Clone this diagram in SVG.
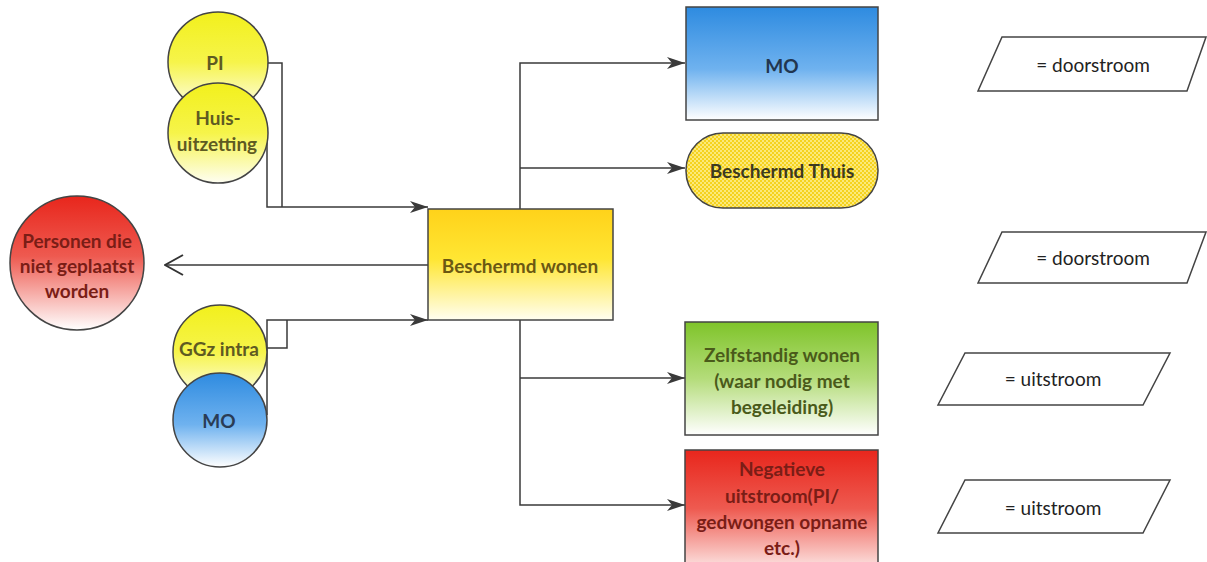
<svg xmlns="http://www.w3.org/2000/svg" width="1207" height="562" viewBox="0 0 1207 562">
<defs>
<linearGradient id="gY" x1="0" y1="0" x2="0" y2="1"><stop offset="0" stop-color="#ffd21a"/><stop offset="0.45" stop-color="#ffe633"/><stop offset="1" stop-color="#fffef0"/></linearGradient>
<linearGradient id="gYc" x1="0" y1="0" x2="0" y2="1"><stop offset="0" stop-color="#f2f01c"/><stop offset="0.5" stop-color="#f6f44a"/><stop offset="1" stop-color="#fefef2"/></linearGradient>
<linearGradient id="gB" x1="0" y1="0" x2="0" y2="1"><stop offset="0" stop-color="#2e8be0"/><stop offset="0.55" stop-color="#6fb2ef"/><stop offset="1" stop-color="#ffffff"/></linearGradient>
<linearGradient id="gG" x1="0" y1="0" x2="0" y2="1"><stop offset="0" stop-color="#7fc42a"/><stop offset="0.5" stop-color="#b4dc7a"/><stop offset="1" stop-color="#ffffff"/></linearGradient>
<linearGradient id="gR" x1="0" y1="0" x2="0" y2="1"><stop offset="0" stop-color="#e8261c"/><stop offset="0.45" stop-color="#ee5a50"/><stop offset="1" stop-color="#ffffff"/></linearGradient>
<pattern id="hatch" width="4" height="4" patternUnits="userSpaceOnUse"><rect width="4" height="4" fill="#fbe97a"/><rect width="2" height="2" fill="#f5d21e"/><rect x="2" y="2" width="2" height="2" fill="#f5d21e"/></pattern>
<marker id="ah" markerWidth="18" markerHeight="12" refX="18" refY="6" orient="auto" markerUnits="userSpaceOnUse"><path d="M0,0 L18,6 L0,12 L5,6 Z" fill="#3a3a3a"/></marker>
<marker id="oh" markerWidth="20" markerHeight="22" refX="19" refY="11" orient="auto" markerUnits="userSpaceOnUse"><path d="M1,1 L19,11 L1,21" fill="none" stroke="#333" stroke-width="2"/></marker>
</defs>
<style>
.s{stroke:#444;stroke-width:1.5}
.c{fill:none;stroke:#3a3a3a;stroke-width:1.5}
text{font-family:Lato,"Open Sans","Liberation Sans",sans-serif;text-anchor:middle;dominant-baseline:central}
.t{font-size:19px;font-weight:bold}
.p{font-size:19px;fill:#222}
</style>
<g id="connectors">
<polyline class="c" points="267,63 282,63 282,207"/>
<polyline class="c" points="267,140 267,207 428,207" marker-end="url(#ah)"/>
<polyline class="c" points="267,348 287,348 287,320"/>
<polyline class="c" points="267,415 267,320 428,320" marker-end="url(#ah)"/>
<line class="c" x1="428" y1="265" x2="165" y2="265" marker-end="url(#oh)"/>
<polyline class="c" points="520,209 520,63 685,63" marker-end="url(#ah)"/>
<polyline class="c" points="520,168 685,168" marker-end="url(#ah)"/>
<polyline class="c" points="520,320 520,505 685,505" marker-end="url(#ah)"/>
<polyline class="c" points="520,378 685,378" marker-end="url(#ah)"/>
</g>
<g id="pi"><circle class="s" cx="218" cy="62" r="50" fill="url(#gYc)"/><text class="t" x="215" y="62" fill="#5e5a22">PI</text></g>
<g id="huis"><circle class="s" cx="218" cy="133" r="50" fill="url(#gYc)"/><text class="t" x="218" y="117" fill="#5e5a22">Huis-</text><text class="t" x="217" y="143" fill="#5e5a22">uitzetting</text></g>
<g id="ggz"><circle class="s" cx="220" cy="352" r="47" fill="url(#gYc)"/><text class="t" x="219" y="348" fill="#5e5a22">GGz intra</text></g>
<g id="mo-circle"><circle class="s" cx="220" cy="420" r="47" fill="url(#gB)"/><text class="t" x="219" y="420" fill="#2a3c55" font-weight="normal">MO</text></g>
<g id="personen"><circle class="s" cx="77" cy="263" r="67" fill="url(#gR)"/><text class="t" x="77" y="240" fill="#7a1d16">Personen die</text><text class="t" x="77" y="265" fill="#7a1d16">niet geplaatst</text><text class="t" x="77" y="290" fill="#7a1d16">worden</text></g>
<g id="bw"><rect class="s" x="428" y="209" width="185" height="111" fill="url(#gY)"/><text class="t" x="520" y="265" fill="#6b5812" font-size="20">Beschermd wonen</text></g>
<g id="mo"><rect class="s" x="686" y="7" width="192" height="113" fill="url(#gB)"/><text class="t" x="782" y="65" fill="#22364f" font-weight="normal">MO</text></g>
<g id="bt"><rect class="s" x="686" y="133" width="192" height="75" rx="37" ry="37" fill="url(#hatch)"/><text class="t" x="782" y="170" fill="#3c3a20">Beschermd Thuis</text></g>
<g id="zw"><rect class="s" x="685" y="322" width="193" height="113" fill="url(#gG)"/><text class="t" x="782" y="354" fill="#4a5a1a">Zelfstandig wonen</text><text class="t" x="782" y="380" fill="#4a5a1a">(waar nodig met</text><text class="t" x="782" y="406" fill="#4a5a1a">begeleiding)</text></g>
<g id="neg"><rect class="s" x="685" y="450" width="193" height="130" fill="url(#gR)"/><text class="t" x="782" y="468" fill="#7a1d16">Negatieve</text><text class="t" x="782" y="495" fill="#7a1d16">uitstroom(PI/</text><text class="t" x="782" y="521" fill="#7a1d16">gedwongen opname</text><text class="t" x="782" y="547" fill="#7a1d16">etc.)</text></g>
<g id="leg1"><polygon class="s" points="1002,37 1206,37 1187,91 978,91" fill="#fff"/><text class="p" x="1093" y="64" fill="#444">= doorstroom</text></g>
<g id="leg2"><polygon class="s" points="1002,232 1206,232 1187,283 978,283" fill="#fff"/><text class="p" x="1093" y="257">= doorstroom</text></g>
<g id="leg3"><polygon class="s" points="965,353 1170,353 1143,405 938,405" fill="#fff"/><text class="p" x="1053" y="378">= uitstroom</text></g>
<g id="leg4"><polygon class="s" points="965,480 1170,480 1143,533 938,533" fill="#fff"/><text class="p" x="1053" y="507">= uitstroom</text></g>
</svg>
